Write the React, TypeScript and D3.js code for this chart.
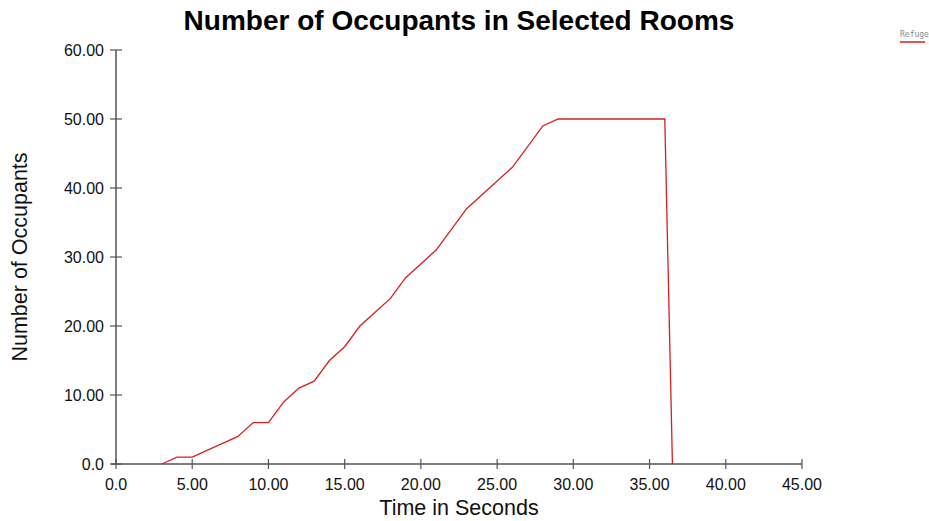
import React from "react";
import * as d3 from "d3";

const timeSeconds = [3, 4, 5, 8, 9, 10, 11, 12, 13, 14, 15, 16, 18, 19, 21, 23, 26, 28, 29, 36, 36.5];
const occupants = [0, 1, 1, 4, 6, 6, 9, 11, 12, 15, 17, 20, 24, 27, 31, 37, 43, 49, 50, 50, 0];
const xTicks = [0, 5, 10, 15, 20, 25, 30, 35, 40, 45];
const yTicks = [0, 10, 20, 30, 40, 50, 60];
const seriesName = "Refuge";

const W = 929, H = 521;
const left = 116, right = 802, top = 50, bottom = 464;

const fmt = (v: number) => (v === 0 ? "0.0" : v.toFixed(2));

export default function App() {
  const x = d3.scaleLinear().domain([0, 45]).range([left, right]);
  const y = d3.scaleLinear().domain([0, 60]).range([bottom, top]);
  const data = timeSeconds.map((t, i) => [t, occupants[i]] as [number, number]);
  const line = d3.line<[number, number]>().x(d => x(d[0])).y(d => y(d[1]));
  const axisColor = "#555";
  const font = "'Liberation Sans', Arial, sans-serif";
  return (
    <svg width={W} height={H} style={{ position: "absolute", left: 0, top: 0, background: "#fff" }}>
      <text x={459} y={30} textAnchor="middle" fontFamily={font} fontWeight="bold" fontSize={28} fill="#000">
        Number of Occupants in Selected Rooms
      </text>
      <line x1={left} x2={left} y1={top} y2={bottom} stroke={axisColor} strokeWidth={1.5} />
      <line x1={left - 5} x2={right} y1={bottom} y2={bottom} stroke={axisColor} strokeWidth={1.5} />
      {yTicks.map(v => (
        <g key={"y" + v}>
          <line x1={left - 6} x2={left + 6} y1={y(v)} y2={y(v)} stroke={axisColor} strokeWidth={1.2} />
          <text x={104} y={y(v) + 6} textAnchor="end" fontFamily={font} fontSize={16} fill="#111">
            {fmt(v)}
          </text>
        </g>
      ))}
      {xTicks.map(v => (
        <g key={"x" + v}>
          <line x1={x(v)} x2={x(v)} y1={bottom - 5} y2={bottom + 5} stroke={axisColor} strokeWidth={1.2} />
          <text x={x(v)} y={490} textAnchor="middle" fontFamily={font} fontSize={16} fill="#111">
            {fmt(v)}
          </text>
        </g>
      ))}
      <text x={459} y={515} textAnchor="middle" fontFamily={font} fontSize={21.5} fill="#111">
        Time in Seconds
      </text>
      <text transform={`translate(27,257) rotate(-90)`} textAnchor="middle" fontFamily={font} fontSize={21.5} fill="#111">
        Number of Occupants
      </text>
      <path d={line(data) || ""} fill="none" stroke="#d42020" strokeWidth={1.3} />
      <text x={900} y={37} fontFamily="'DejaVu Sans Mono', monospace" fontSize={8} fill="#888">
        {seriesName}
      </text>
      <line x1={900} x2={925} y1={42} y2={42} stroke="#d42020" strokeWidth={1.5} />
    </svg>
  );
}
